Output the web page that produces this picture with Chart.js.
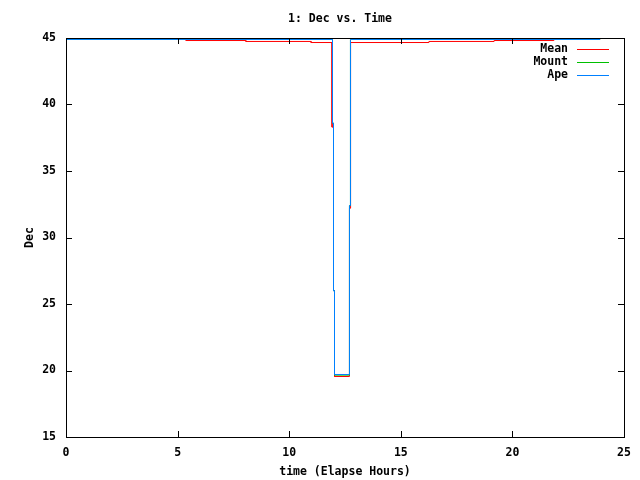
<!DOCTYPE html>
<html>
<head>
<meta charset="utf-8">
<script src="https://cdn.jsdelivr.net/npm/chart.js@4.4.0/dist/chart.umd.min.js"></script>
<style>
  html, body { margin: 0; padding: 0; background: #fff; }
  canvas { display: block; }
</style>
</head>
<body>
<canvas id="chart" width="640" height="480"></canvas>
<script>
// ── DATA ──
const titleText = '1: Dec vs. Time';
const xTicks = [0, 5, 10, 15, 20, 25];
const yTicks = [15, 20, 25, 30, 35, 40, 45];

const meanTime = [0, 5.38, 5.38, 8.06, 8.06, 10.98, 10.98, 11.92, 11.92, 11.985, 11.985, 12.03, 12.03,
                  12.70, 12.70, 12.75, 12.75, 16.26, 16.26, 19.18, 19.18, 21.86, 21.86, 23.93];
const meanDec  = [44.89, 44.89, 44.81, 44.81, 44.74, 44.74, 44.66, 44.66, 38.3, 38.3, 26.0, 26.0, 19.55,
                  19.55, 32.2, 32.2, 44.66, 44.66, 44.74, 44.74, 44.81, 44.81, 44.89, 44.89];

const mountTime = [0, 11.94, 11.94, 11.985, 11.985, 12.03, 12.03, 12.70, 12.70, 12.745, 12.745, 23.93];
const mountDec  = [44.89, 44.89, 38.6, 38.6, 26.0, 26.0, 19.65, 19.65, 32.4, 32.4, 44.89, 44.89];

const apeTime = [0, 11.94, 11.94, 11.985, 11.985, 12.03, 12.03, 12.70, 12.70, 12.745, 12.745, 23.93];
const apeDec  = [44.89, 44.89, 38.6, 38.6, 26.0, 26.0, 19.70, 19.70, 32.4, 32.4, 44.89, 44.89];

const seriesNames  = ['Mean', 'Mount', 'Ape'];
const seriesColors = ['#ff0000', '#00c000', '#0080ff'];

// ── STYLE ──
const FAMILY = '"DejaVu Sans Mono", "Liberation Mono", monospace';
const FONT_SIZE = 11.5;
const CSS_FONT = `bold ${FONT_SIZE}px ${FAMILY}`;
const axisFont = { family: FAMILY, size: FONT_SIZE, weight: 'bold' };

const toPoints = (xs, ys) => xs.map((x, i) => ({ x: x, y: ys[i] }));

function lineSet(i, xs, ys) {
    return {
        label: seriesNames[i],
        data: toPoints(xs, ys),
        borderColor: seriesColors[i],
        backgroundColor: seriesColors[i],
        showLine: true,
        pointRadius: 0,
        borderWidth: 1,
    };
}

// frame, inward mirrored ticks, title and gnuplot-style legend
const gnuplotDecor = {
    id: 'gnuplotDecor',
    afterDraw(chart) {
        const ctx = chart.ctx;
        const a = chart.chartArea;
        const xs = chart.scales.x, ys = chart.scales.y;
        const tl = 6;
        ctx.save();
        ctx.strokeStyle = '#000';
        ctx.lineWidth = 1;
        ctx.beginPath();
        xTicks.forEach(v => {
            const px = Math.round(xs.getPixelForValue(v)) + 0.5;
            ctx.moveTo(px, a.bottom); ctx.lineTo(px, a.bottom - tl);
            ctx.moveTo(px, a.top);    ctx.lineTo(px, a.top + tl);
        });
        yTicks.forEach(v => {
            const py = Math.round(ys.getPixelForValue(v)) + 0.5;
            ctx.moveTo(a.left, py);  ctx.lineTo(a.left + tl, py);
            ctx.moveTo(a.right, py); ctx.lineTo(a.right - tl, py);
        });
        ctx.stroke();
        ctx.strokeRect(Math.round(a.left) + 0.5, Math.round(a.top) + 0.5,
                       Math.round(a.right - a.left), Math.round(a.bottom - a.top));

        ctx.fillStyle = '#000';
        ctx.font = CSS_FONT;
        ctx.textBaseline = 'middle';
        ctx.textAlign = 'center';
        ctx.fillText(titleText, 340, 19);

        // legend: label right-aligned, sample line to its right
        seriesNames.forEach((name, i) => {
            const y = 49 + i * 13;
            ctx.textAlign = 'right';
            ctx.fillStyle = '#000';
            ctx.fillText(name, 568, y);
            ctx.strokeStyle = seriesColors[i];
            ctx.beginPath();
            ctx.moveTo(577, y + 0.5);
            ctx.lineTo(609, y + 0.5);
            ctx.stroke();
        });
        ctx.restore();
    }
};

new Chart(document.getElementById('chart'), {
    type: 'scatter',
    data: {
        // first dataset is painted last, so Ape ends on top like gnuplot
        datasets: [
            lineSet(2, apeTime, apeDec),
            lineSet(1, mountTime, mountDec),
            lineSet(0, meanTime, meanDec),
        ]
    },
    options: {
        responsive: false,
        animation: false,
        devicePixelRatio: 1,
        layout: { padding: { left: 0, right: 16, top: 38, bottom: 0 } },
        plugins: {
            legend: { display: false },
            tooltip: { enabled: false },
            title: { display: false }
        },
        scales: {
            x: {
                type: 'linear',
                min: 0, max: 25,
                afterBuildTicks: s => { s.ticks = xTicks.map(v => ({ value: v })); },
                afterFit: s => { s.height = 43; },
                grid: { display: false, drawTicks: false },
                border: { display: false },
                ticks: { color: '#000', padding: 9, maxRotation: 0, font: axisFont },
                title: { display: true, text: 'time (Elapse Hours)', color: '#000',
                         padding: { top: 0, bottom: 1 }, font: axisFont }
            },
            y: {
                type: 'linear',
                min: 15, max: 45,
                afterBuildTicks: s => { s.ticks = yTicks.map(v => ({ value: v })); },
                afterFit: s => { s.width = 66; },
                grid: { display: false, drawTicks: false },
                border: { display: false },
                ticks: { color: '#000', padding: 10, font: axisFont },
                title: { display: true, text: 'Dec', color: '#000',
                         padding: { top: 23, bottom: 0 }, font: axisFont }
            }
        }
    },
    plugins: [gnuplotDecor]
});
</script>
</body>
</html>
